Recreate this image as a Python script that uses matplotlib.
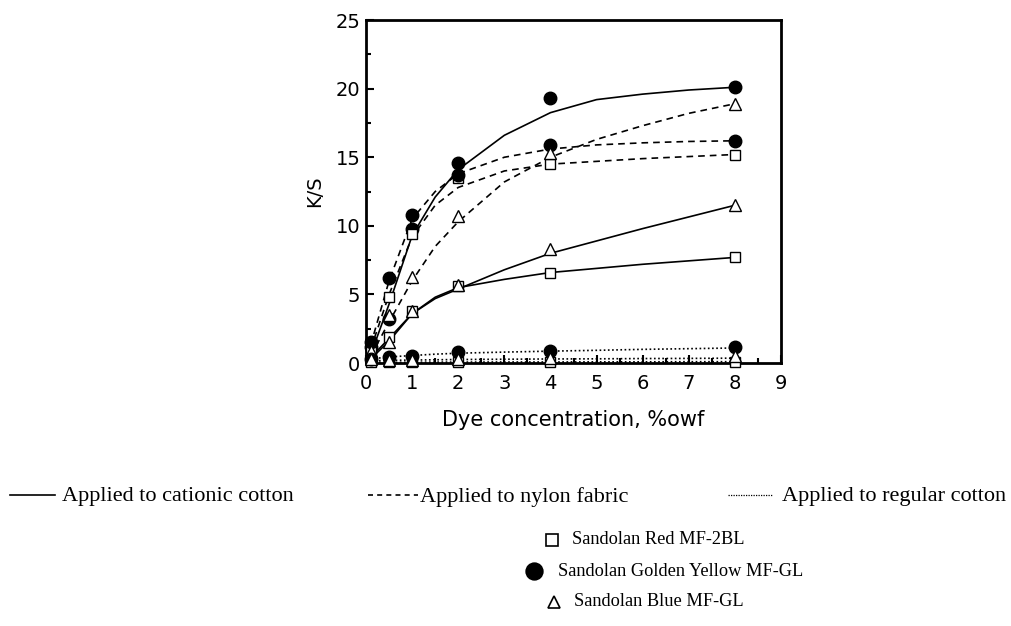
import matplotlib.pyplot as plt
from matplotlib.lines import Line2D
from matplotlib.ticker import MultipleLocator

# dye concentration (%owf) of the measured points
conc = [0.1, 0.5, 1, 2, 4, 8]

cat_red = [0.5, 1.9, 3.8, 5.6, 6.6, 7.7]
cat_yellow = [1.2, 3.2, 9.8, 14.6, 19.3, 20.1]
cat_blue = [0.6, 1.5, 3.8, 5.7, 8.3, 11.5]
nyl_red = [1.0, 4.8, 9.4, 13.5, 14.5, 15.2]
nyl_yellow = [1.5, 6.2, 10.8, 13.7, 15.9, 16.2]
nyl_blue = [0.9, 3.5, 6.3, 10.7, 15.3, 18.9]
reg_red = [0.05, 0.05, 0.05, 0.05, 0.05, 0.1]
reg_yellow = [0.3, 0.45, 0.55, 0.8, 0.9, 1.2]
reg_blue = [0.3, 0.2, 0.2, 0.3, 0.4, 0.5]

# fitted curves as drawn in the picture, read at these x values
fit_x = [0.1, 0.5, 1, 1.5, 2, 3, 4, 5, 6, 7, 8]
fit_cat_red = [0.4, 1.8, 3.6, 4.8, 5.5, 6.1, 6.6, 6.9, 7.2, 7.45, 7.7]
fit_cat_yellow = [0.6, 4.3, 9.3, 12.1, 14.1, 16.6, 18.25, 19.2, 19.6, 19.9, 20.1]
fit_cat_blue = [0.3, 1.6, 3.6, 4.7, 5.4, 6.8, 8.0, 8.9, 9.8, 10.65, 11.5]
fit_nyl_red = [1.0, 5.0, 9.2, 11.5, 12.8, 14.0, 14.5, 14.7, 14.9, 15.05, 15.2]
fit_nyl_yellow = [1.3, 6.0, 10.5, 12.5, 13.8, 15.0, 15.6, 15.9, 16.05, 16.15, 16.2]
fit_nyl_blue = [0.5, 3.0, 6.0, 8.5, 10.3, 13.2, 15.0, 16.3, 17.3, 18.2, 18.9]
fit_reg_red = [0.05, 0.05, 0.06, 0.07, 0.07, 0.08, 0.08, 0.09, 0.09, 0.1, 0.1]
fit_reg_yellow = [0.3, 0.45, 0.55, 0.65, 0.72, 0.8, 0.87, 0.93, 1.0, 1.05, 1.1]
fit_reg_blue = [0.15, 0.2, 0.22, 0.24, 0.26, 0.28, 0.3, 0.31, 0.33, 0.34, 0.36]

plt.rcParams["font.family"] = "DejaVu Sans"

fig = plt.figure(figsize=(10.12, 6.26), dpi=100)
ax = fig.add_axes([0.3617, 0.42, 0.41, 0.548])

styles = {"cat": "-", "nyl": (0, (4, 3)), "reg": (0, (1, 1.5))}
marks = {"red": ("s", "white", 7.5), "yellow": ("o", "black", 9), "blue": ("^", "white", 9)}

curves = [
    ("cat", "red", cat_red, fit_cat_red),
    ("cat", "yellow", cat_yellow, fit_cat_yellow),
    ("cat", "blue", cat_blue, fit_cat_blue),
    ("nyl", "red", nyl_red, fit_nyl_red),
    ("nyl", "yellow", nyl_yellow, fit_nyl_yellow),
    ("nyl", "blue", nyl_blue, fit_nyl_blue),
    ("reg", "red", reg_red, fit_reg_red),
    ("reg", "yellow", reg_yellow, fit_reg_yellow),
    ("reg", "blue", reg_blue, fit_reg_blue),
]
for fabric, dye, pts, fit in curves:
    ax.plot(fit_x, fit, color="black", lw=1.2, linestyle=styles[fabric], zorder=2)
    m, fc, ms = marks[dye]
    ax.plot(conc, pts, linestyle="none", marker=m, mfc=fc, mec="black",
            mew=1.0, ms=ms, zorder=3, clip_on=False)

ax.set_xlim(0, 9)
ax.set_ylim(0, 25)
ax.xaxis.set_major_locator(MultipleLocator(1))
ax.xaxis.set_minor_locator(MultipleLocator(0.5))
ax.yaxis.set_major_locator(MultipleLocator(5))
ax.yaxis.set_minor_locator(MultipleLocator(2.5))
ax.tick_params(which="both", direction="in", width=1.5, labelsize=14)
ax.tick_params(which="major", length=6)
ax.tick_params(axis="x", which="major", pad=8)
ax.tick_params(axis="y", which="major", pad=4)
ax.tick_params(which="minor", length=3.5)
for s in ax.spines.values():
    s.set_linewidth(2)
ax.set_xlabel("Dye concentration, %owf", fontsize=15, labelpad=12)
ax.set_ylabel("K/S", fontsize=14, labelpad=8)

# legend built by hand in figure coordinates, like the original
serif = "Liberation Serif"
W, H = 1012, 626


def fx(px):
    return px / W


def fy(py):
    return 1 - py / H


row = 497
fig.add_artist(Line2D([fx(10), fx(55)], [fy(row - 2)] * 2, color="black", lw=1.2))
fig.text(fx(62), fy(row), "Applied to cationic cotton", family=serif, fontsize=16, va="center")
fig.add_artist(Line2D([fx(368), fx(418)], [fy(row - 2)] * 2, color="black", lw=1.2,
                      linestyle=(0, (3, 2.5))))
fig.text(fx(420), fy(row), "Applied to nylon fabric", family=serif, fontsize=16, va="center")
fig.add_artist(Line2D([fx(728), fx(772)], [fy(row - 2)] * 2, color="black", lw=0.9,
                      linestyle=(0, (1, 1))))
fig.text(fx(782), fy(row), "Applied to regular cotton", family=serif, fontsize=16, va="center")

dye_rows = [
    ("s", "white", 9, 552, 540, 572, "Sandolan Red MF-2BL"),
    ("o", "black", 12, 534, 571, 558, "Sandolan Golden Yellow MF-GL"),
    ("^", "white", 9, 554, 602, 574, "Sandolan Blue MF-GL"),
]
for m, fc, ms, mx, my, tx, label in dye_rows:
    fig.add_artist(Line2D([fx(mx)], [fy(my)], marker=m, mfc=fc, mec="black",
                          mew=1.2, ms=ms, linestyle="none"))
    fig.text(fx(tx), fy(my), label, family=serif, fontsize=13.2, va="center")

fig.savefig("out.png", dpi=100)
